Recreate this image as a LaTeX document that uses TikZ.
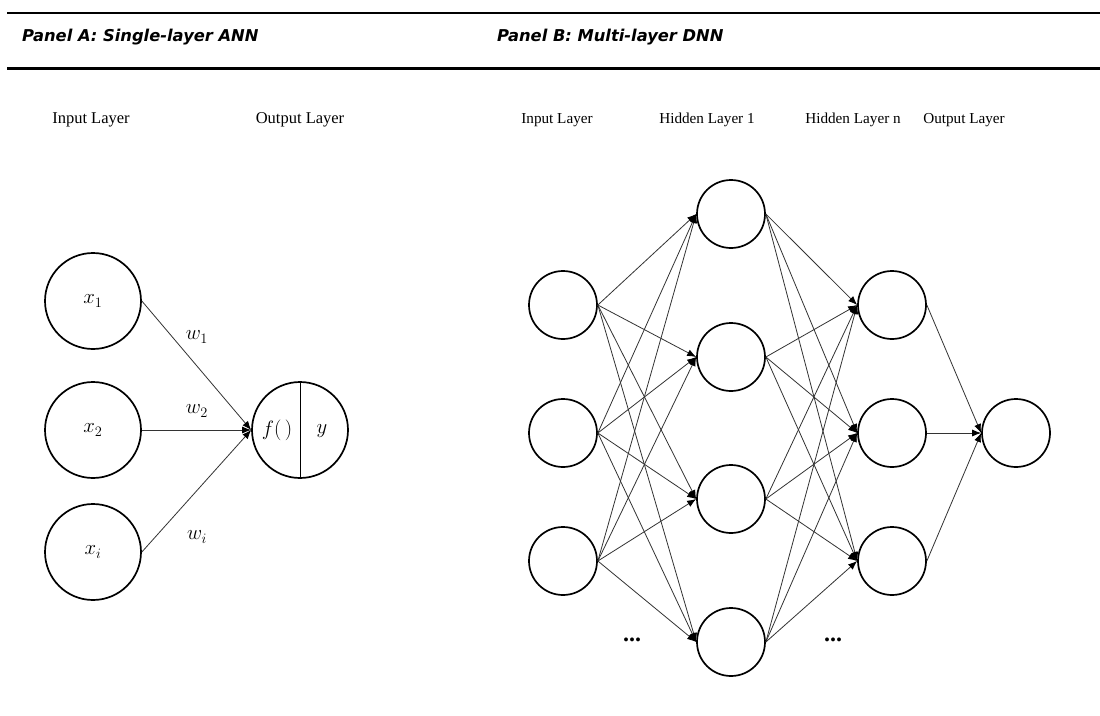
\documentclass[tikz,border=0pt]{standalone}
\usepackage{fontspec}
\setmainfont{Liberation Serif}
\newfontfamily\headfont{DejaVu Sans}
\usetikzlibrary{arrows.meta}
\begin{document}
\begin{tikzpicture}[x=1pt,y=-1pt,
  neuron/.style={circle,draw,line width=1.7pt,inner sep=0pt},
  bigneuron/.style={neuron,minimum size=96pt},
  smallneuron/.style={neuron,minimum size=68pt},
  link/.style={draw=black!80,line width=0.8pt,-{Latex[length=9pt,width=7pt,black]}},
  layerA/.style={font=\fontsize{16.5}{19}\selectfont},
  layerB/.style={font=\fontsize{15.2}{18}\selectfont},
  head/.style={font=\headfont\bfseries\itshape\fontsize{16.3}{19}\selectfont,anchor=base west,inner sep=0pt},
  mlabel/.style={font=\fontsize{20.74}{24}\selectfont},
  dots/.style={font=\bfseries\fontsize{24}{26}\selectfont}]
\useasboundingbox[fill=white] (0,0) rectangle (1100,715);

% header rules and panel titles
\coordinate (r1a) at (7,13);   \coordinate (r1b) at (1100,13);
\coordinate (r2a) at (7,68);   \coordinate (r2b) at (1100,68);
\draw[line width=2pt] (r1a) -- (r1b);
\draw[line width=3pt] (r2a) -- (r2b);
\node[head] (tA) at (22,41) {Panel A: Single-layer ANN};
\node[head] (tB) at (497,41) {Panel B: Multi-layer DNN};

% ---------- Panel A ----------
\node[layerA] (lA1) at (91,120) {Input Layer};
\node[layerA] (lA2) at (300,120) {Output Layer};

\node[bigneuron,mlabel] (x1) at (93,301) {$x_1$};
\node[bigneuron,mlabel] (x2) at (93,430) {$x_2$};
\node[bigneuron,mlabel] (xi) at (93,552) {$x_i$};
\node[bigneuron] (out) at (300,430) {};
\draw[line width=1pt] (out.north) -- (out.south);
\node[mlabel] (fA) at (277,430) {$f(\,)$};
\node[mlabel] (yA) at (322,431) {$y$};

\draw[link] (x1.east) -- (out.west);
\draw[link] (x2.east) -- (out.west);
\draw[link] (xi.east) -- (out.west);
\node[mlabel] (w1) at (197,337) {$w_1$};
\node[mlabel] (w2) at (197,411) {$w_2$};
\node[mlabel] (wi) at (197,537) {$w_i$};

% ---------- Panel B ----------
\node[layerB] (lB1) at (557,120) {Input Layer};
\node[layerB] (lB2) at (707,120) {Hidden Layer 1};
\node[layerB] (lB3) at (853,120) {Hidden Layer n};
\node[layerB] (lB4) at (964,120) {Output Layer};

\foreach \i/\y in {1/305,2/433,3/561}
  \node[smallneuron] (in\i) at (563,\y) {};
\foreach \i/\y in {1/214,2/357,3/499,4/642}
  \node[smallneuron] (ha\i) at (731,\y) {};
\foreach \i/\y in {1/305,2/433,3/561}
  \node[smallneuron] (hn\i) at (892,\y) {};
\node[smallneuron] (o) at (1016,433) {};

\foreach \i in {1,2,3}
  \foreach \j in {1,2,3,4}
    \draw[link] (in\i.east) -- (ha\j.west);
\foreach \i in {1,2,3,4}
  \foreach \j in {1,2,3}
    \draw[link] (ha\i.east) -- (hn\j.west);
\foreach \i in {1,2,3}
  \draw[link] (hn\i.east) -- (o.west);

\node[dots] (d1) at (632,640) {...};
\node[dots] (d2) at (833,640) {...};
\end{tikzpicture}
\end{document}
